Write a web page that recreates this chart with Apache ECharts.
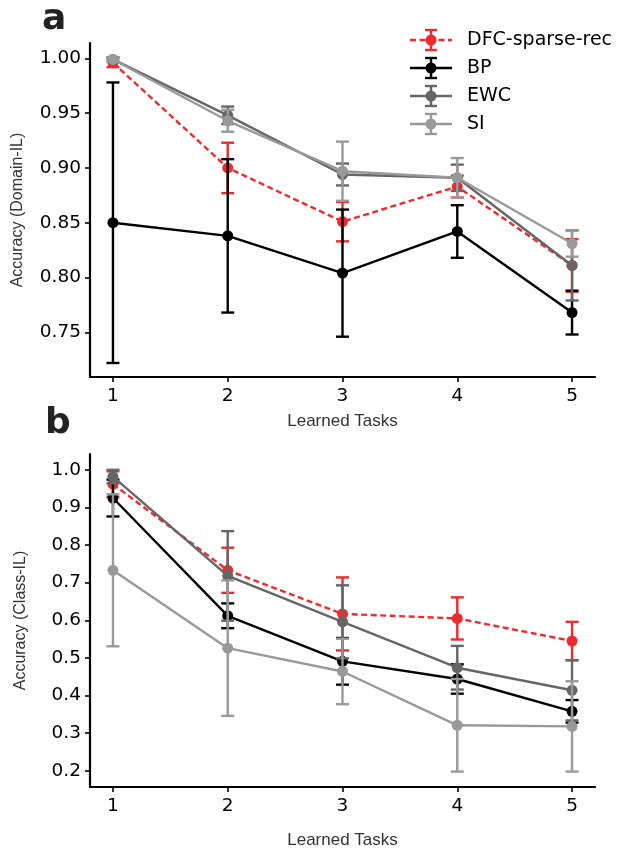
<!DOCTYPE html>
<html>
<head>
<meta charset="utf-8">
<script src="https://cdn.jsdelivr.net/npm/echarts@6/dist/echarts.min.js"></script>
<style>
html,body{margin:0;padding:0;background:#fff}
#main{width:618px;height:850px}
</style>
</head>
<body>
<div id="main"></div>
<script>
// x 轴任务编号
const tasks = [1, 2, 3, 4, 5]
const methodNames = ['DFC-sparse-rec', 'BP', 'EWC', 'SI']
const methodColors = ['#ee2a2e', '#000000', '#666666', '#999999']

// a: Domain-IL 均值与误差
const dfcDomain = [0.996, 0.900, 0.851, 0.883, 0.811]
const dfcDomainErr = [0.004, 0.023, 0.018, 0.010, 0.024]
const bpDomain = [0.850, 0.838, 0.804, 0.842, 0.768]
const bpDomainErr = [0.128, 0.070, 0.058, 0.024, 0.020]
const ewcDomain = [0.999, 0.948, 0.894, 0.891, 0.811]
const ewcDomainErr = [0.002, 0.008, 0.010, 0.012, 0.032]
const siDomain = [0.999, 0.943, 0.897, 0.891, 0.831]
const siDomainErr = [0.002, 0.010, 0.027, 0.018, 0.012]

// b: Class-IL 均值与误差
const dfcClass = [0.962, 0.733, 0.617, 0.605, 0.545]
const dfcClassErr = [0.034, 0.060, 0.097, 0.056, 0.051]
const bpClass = [0.925, 0.612, 0.491, 0.444, 0.358]
const bpClassErr = [0.049, 0.033, 0.062, 0.039, 0.030]
const ewcClass = [0.982, 0.718, 0.596, 0.474, 0.414]
const ewcClassErr = [0.018, 0.119, 0.097, 0.058, 0.080]
const siClass = [0.733, 0.526, 0.464, 0.321, 0.318]
const siClassErr = [0.202, 0.180, 0.087, 0.123, 0.120]

// y 轴刻度
const domainTicks = [0.75, 0.80, 0.85, 0.90, 0.95, 1.00]
const classTicks = [0.2, 0.3, 0.4, 0.5, 0.6, 0.7, 0.8, 0.9, 1.0]

const domainMeans = [dfcDomain, bpDomain, ewcDomain, siDomain]
const domainErrs = [dfcDomainErr, bpDomainErr, ewcDomainErr, siDomainErr]
const classMeans = [dfcClass, bpClass, ewcClass, siClass]
const classErrs = [dfcClassErr, bpClassErr, ewcClassErr, siClassErr]

const tickFont = 'DejaVu Sans'
const nameFont = 'Liberation Sans'
const lw = 2.4

let chartInstance = echarts.init(document.getElementById('main'))

// 误差棒 (竖线 + 上下帽)
function renderErrorBar (params, api) {
  const x = api.value(0)
  const lo = api.coord([x, api.value(1)])
  const hi = api.coord([x, api.value(2)])
  const cap = 6.5
  const style = { stroke: api.visual('color'), lineWidth: lw }
  return {
    type: 'group',
    children: [
      { type: 'line', shape: { x1: lo[0], y1: lo[1], x2: hi[0], y2: hi[1] }, style: style },
      { type: 'line', shape: { x1: lo[0] - cap, y1: lo[1], x2: lo[0] + cap, y2: lo[1] }, style: style },
      { type: 'line', shape: { x1: hi[0] - cap, y1: hi[1], x2: hi[0] + cap, y2: hi[1] }, style: style }
    ]
  }
}

function buildSeries (axisIdx, means, errs) {
  const list = []
  means.forEach((vals, i) => {
    list.push({
      type: 'custom',
      name: methodNames[i],
      xAxisIndex: axisIdx,
      yAxisIndex: axisIdx,
      renderItem: renderErrorBar,
      itemStyle: { color: methodColors[i] },
      data: tasks.map((t, k) => [t, vals[k] - errs[i][k], vals[k] + errs[i][k]]),
      z: 2 + i
    })
    list.push({
      type: 'line',
      name: methodNames[i],
      xAxisIndex: axisIdx,
      yAxisIndex: axisIdx,
      data: tasks.map((t, k) => [t, vals[k]]),
      symbol: 'circle',
      symbolSize: 11,
      itemStyle: { color: methodColors[i] },
      lineStyle: {
        color: methodColors[i],
        width: lw,
        type: i === 0 ? [6, 3.5] : 'solid'
      },
      z: 2 + i
    })
  })
  return list
}

function xAxisOf (idx, gap) {
  return {
    type: 'value',
    gridIndex: idx,
    min: 0.8,
    max: 5.2,
    name: 'Learned Tasks',
    nameLocation: 'middle',
    nameGap: gap,
    nameTextStyle: { fontFamily: nameFont, fontSize: 17, color: '#333' },
    axisLine: { lineStyle: { color: '#000', width: 2.2 } },
    axisTick: { customValues: tasks, length: 5, lineStyle: { color: '#000', width: 1.6 } },
    axisLabel: {
      customValues: tasks,
      fontFamily: tickFont,
      fontSize: 18.5,
      color: '#000',
      margin: 10
    },
    splitLine: { show: false }
  }
}

function yAxisOf (idx, min, max, ticks, digits, name, gap) {
  return {
    type: 'value',
    gridIndex: idx,
    min: min,
    max: max,
    name: name,
    nameLocation: 'middle',
    nameGap: gap,
    nameTextStyle: { fontFamily: nameFont, fontSize: 16, color: '#333' },
    axisLine: { show: true, lineStyle: { color: '#000', width: 2.2 } },
    axisTick: { show: true, customValues: ticks, length: 5, lineStyle: { color: '#000', width: 1.6 } },
    axisLabel: {
      customValues: ticks,
      fontFamily: tickFont,
      fontSize: 18.5,
      color: '#000',
      margin: 9,
      formatter: v => v.toFixed(digits)
    },
    splitLine: { show: false }
  }
}

// 手绘图例 (误差棒样式)
function legendGraphic () {
  const items = []
  methodNames.forEach((name, i) => {
    const y = 40 + i * 28
    const c = methodColors[i]
    items.push(
      { type: 'line', shape: { x1: 410, y1: y, x2: 452, y2: y }, style: { stroke: c, lineWidth: lw, lineDash: i === 0 ? [6, 3.5] : null } },
      { type: 'line', shape: { x1: 431, y1: y - 10, x2: 431, y2: y + 10 }, style: { stroke: c, lineWidth: lw } },
      { type: 'line', shape: { x1: 425, y1: y - 10, x2: 437, y2: y - 10 }, style: { stroke: c, lineWidth: lw } },
      { type: 'line', shape: { x1: 425, y1: y + 10, x2: 437, y2: y + 10 }, style: { stroke: c, lineWidth: lw } },
      { type: 'circle', shape: { cx: 431, cy: y, r: 5.5 }, style: { fill: c } },
      { type: 'text', x: 467, y: y, style: { text: name, fontFamily: tickFont, fontSize: 19, fill: '#000', verticalAlign: 'middle' } }
    )
  })
  return items
}

const option = {
  animation: false,
  backgroundColor: '#fff',
  grid: [
    { left: 90, top: 43, width: 505, height: 334 },
    { left: 90, top: 454, width: 505, height: 335 }
  ],
  xAxis: [xAxisOf(0, 36), xAxisOf(1, 45)],
  yAxis: [
    yAxisOf(0, 0.7092, 1.014, domainTicks, 2, 'Accuracy (Domain-IL)', 64),
    yAxisOf(1, 0.157, 1.042, classTicks, 1, 'Accuracy (Class-IL)', 61)
  ],
  graphic: [
    { type: 'text', x: 42, y: 38, style: { text: 'a', fontFamily: tickFont, fontWeight: 'bold', fontSize: 36, fill: '#222', verticalAlign: 'bottom' } },
    { type: 'text', x: 45, y: 442, style: { text: 'b', fontFamily: tickFont, fontWeight: 'bold', fontSize: 36, fill: '#222', verticalAlign: 'bottom' } }
  ].concat(legendGraphic()),
  series: buildSeries(0, domainMeans, domainErrs).concat(buildSeries(1, classMeans, classErrs))
}
chartInstance.setOption(option)
</script>
</body>
</html>
